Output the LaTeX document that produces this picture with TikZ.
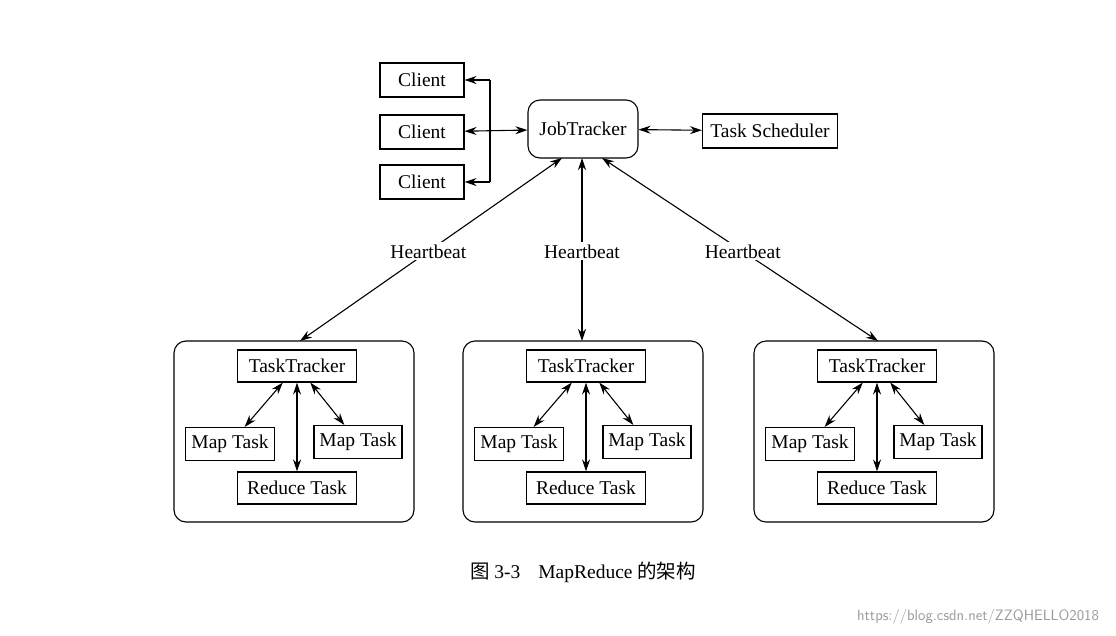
\documentclass[tikz,border=0pt]{standalone}
\usepackage{fontspec}
\setmainfont{Liberation Serif}
\newfontfamily\cjk{Noto Sans CJK SC}
\usetikzlibrary{arrows.meta}
\begin{document}
\begin{tikzpicture}[x=1pt,y=-1pt,
  box/.style={draw,line width=1.1pt,inner sep=0pt,font=\fontsize{19.5}{21}\selectfont},
  rbox/.style={draw,line width=1.1pt,rounded corners=12pt,inner sep=0pt},
  ar/.style={line width=1.1pt,-{Stealth[length=12pt,width=8pt]}},
  dar/.style={line width=1.1pt,{Stealth[length=12pt,width=8pt]}-{Stealth[length=12pt,width=8pt]}},
  lab/.style={fill=white,inner sep=2pt,font=\fontsize{19.5}{21}\selectfont}]
\useasboundingbox (0,0) rectangle (1116,635);
\fill[white] (0,0) rectangle (1116,635);
\node[box,minimum width=84pt,minimum height=34pt] (c1) at (422,80) {Client};
\node[box,minimum width=84pt,minimum height=34pt] (c2) at (422,132) {Client};
\node[box,minimum width=84pt,minimum height=34pt] (c3) at (422,182) {Client};
\node[box,rounded corners=12pt,minimum width=110pt,minimum height=58pt] (jt) at (583,129) {JobTracker};
\node[box,minimum width=135pt,minimum height=34pt] (ts) at (770,131) {Task Scheduler};
\coordinate (b1) at (490,80);
\coordinate (b3) at (490,182);
\draw[dar] (c2) -- (jt);
\draw[dar] (jt) -- (ts);
\draw[line width=1.1pt] (b1) -- (b3);
\draw[ar] (b1) -- (c1);
\draw[ar] (b3) -- (c3);
\foreach \i/\dx in {1/0,2/289,3/580}{
  \node[rbox,minimum width=240pt,minimum height=181pt] (w\i) at (294+\dx,431.5) {};
  \node[box,minimum width=119pt,minimum height=32pt] (tt\i) at (297+\dx,366) {TaskTracker};
  \node[box,minimum width=89pt,minimum height=33pt] (ml\i) at (230+\dx,444) {Map Task};
  \node[box,minimum width=88pt,minimum height=33pt] (mr\i) at (358+\dx,442) {Map Task};
  \node[box,minimum width=119pt,minimum height=32pt] (rt\i) at (297+\dx,488) {Reduce Task};
  \draw[dar] (tt\i) -- (ml\i);
  \draw[dar] (tt\i) -- (mr\i);
  \draw[dar] (tt\i) -- (rt\i);
}
\coordinate (jt1) at (562,158);
\coordinate (jt2) at (582,158);
\coordinate (jt3) at (602,158);
\coordinate (wt1) at (300,341);
\coordinate (wt2) at (582,341);
\coordinate (wt3) at (878,341);
\draw[dar] (jt1) -- (wt1) node[lab,pos=0.51] {Heartbeat};
\draw[dar] (jt2) -- (wt2) node[lab,pos=0.51] {Heartbeat};
\draw[dar] (jt3) -- (wt3) node[lab,pos=0.51] {Heartbeat};
\node[font=\fontsize{19.5}{21}\selectfont] (cap) at (583,572) {{\cjk 图} 3-3\hspace{18pt}MapReduce {\cjk 的架构}};
\node[font=\fontsize{15}{17}\selectfont\sffamily,text=black!40] (wm) at (978,617) {https://blog.csdn.net/ZZQHELLO2018};
\end{tikzpicture}
\end{document}
